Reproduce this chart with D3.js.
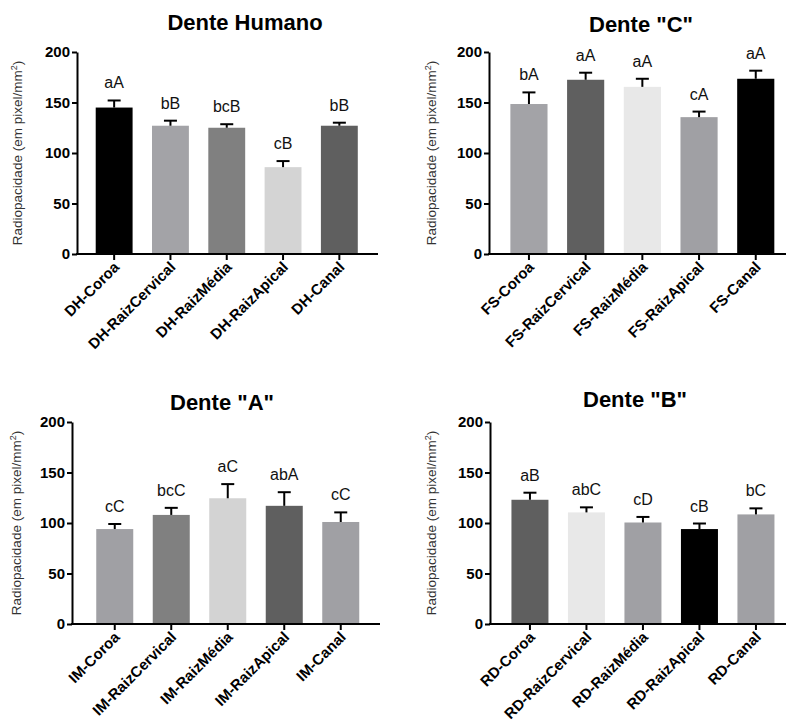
<!DOCTYPE html>
<html>
<head>
<meta charset="utf-8">
<script src="https://cdn.jsdelivr.net/npm/d3@7"></script>
<style>
  body { margin: 0; background: #fff; }
  svg, svg text { font-family: Arial, "Liberation Sans", Helvetica, sans-serif; }
</style>
</head>
<body>
<svg id="chart" width="787" height="724"></svg>
<script>
// values
const yTicks = [0, 50, 100, 150, 200];

const dhTitle = 'Dente Humano';
const dhCats = ['DH-Coroa', 'DH-RaizCervical', 'DH-RaizMédia', 'DH-RaizApical', 'DH-Canal'];
const dhMeans = [145, 127, 125, 86, 127];
const dhErr = [7, 5, 3.5, 6, 3];
const dhLetters = ['aA', 'bB', 'bcB', 'cB', 'bB'];

const fsTitle = 'Dente "C"';
const fsCats = ['FS-Coroa', 'FS-RaizCervical', 'FS-RaizMédia', 'FS-RaizApical', 'FS-Canal'];
const fsMeans = [148.5, 172.5, 165.5, 135.5, 173.5];
const fsErr = [11.5, 7, 8, 5.5, 8];
const fsLetters = ['bA', 'aA', 'aA', 'cA', 'aA'];

const imTitle = 'Dente "A"';
const imCats = ['IM-Coroa', 'IM-RaizCervical', 'IM-RaizMédia', 'IM-RaizApical', 'IM-Canal'];
const imMeans = [94, 108, 124.5, 117, 101];
const imErr = [5, 7, 14, 13.5, 9.5];
const imLetters = ['cC', 'bcC', 'aC', 'abA', 'cC'];

const rdTitle = 'Dente "B"';
const rdCats = ['RD-Coroa', 'RD-RaizCervical', 'RD-RaizMédia', 'RD-RaizApical', 'RD-Canal'];
const rdMeans = [123, 110.5, 100.5, 94, 108.5];
const rdErr = [7, 5, 5.5, 5.5, 6];
const rdLetters = ['aB', 'abC', 'cD', 'cB', 'bC'];

// bar fills per panel
const dhColors = ['#000000', '#a3a3a7', '#808080', '#d4d4d4', '#5f5f5f'];
const fsColors = ['#a3a3a7', '#5f5f5f', '#e8e8e8', '#a0a0a4', '#000000'];
const imColors = ['#a0a0a4', '#808080', '#d3d3d3', '#5f5f5f', '#a0a0a4'];
const rdColors = ['#5f5f5f', '#e8e8e8', '#a0a0a4', '#000000', '#a0a0a4'];

const FONT = 'Arial, "Liberation Sans", Helvetica, sans-serif';

const panels = [
  { title: dhTitle, cats: dhCats, means: dhMeans, err: dhErr, letters: dhLetters, colors: dhColors,
    axisX: 77, y0: 254, y200: 52, xEnd: 378, bandStart: 86, step: 56.3, labelX: 22, titleX: 245, titleY: 30 },
  { title: fsTitle, cats: fsCats, means: fsMeans, err: fsErr, letters: fsLetters, colors: fsColors,
    axisX: 489, y0: 254, y200: 52, xEnd: 786, bandStart: 500.6, step: 56.7, labelX: 436, titleX: 641, titleY: 32 },
  { title: imTitle, cats: imCats, means: imMeans, err: imErr, letters: imLetters, colors: imColors,
    axisX: 72, y0: 624, y200: 422, xEnd: 380, bandStart: 86.5, step: 56.5, labelX: 21, titleX: 222, titleY: 410 },
  { title: rdTitle, cats: rdCats, means: rdMeans, err: rdErr, letters: rdLetters, colors: rdColors,
    axisX: 490, y0: 624, y200: 422, xEnd: 786, bandStart: 501.7, step: 56.5, labelX: 436, titleX: 635, titleY: 407 }
];

const svg = d3.select('#chart').attr('font-family', FONT);

panels.forEach(p => {
  const g = svg.append('g');

  const y = d3.scaleLinear().domain([0, 200]).range([p.y0, p.y200]);
  const x = d3.scaleBand()
    .domain(p.cats)
    .range([p.bandStart, p.bandStart + p.step * p.cats.length])
    .paddingInner(0.345)
    .paddingOuter(0.1725);

  // bars
  g.selectAll('rect.bar')
    .data(p.cats)
    .enter().append('rect')
    .attr('class', 'bar')
    .attr('x', d => x(d))
    .attr('width', x.bandwidth())
    .attr('y', (d, i) => y(p.means[i]))
    .attr('height', (d, i) => p.y0 - y(p.means[i]))
    .attr('fill', (d, i) => p.colors[i]);

  // error bars (upper only)
  const cx = d => x(d) + x.bandwidth() / 2;
  g.selectAll('line.err')
    .data(p.cats)
    .enter().append('line')
    .attr('x1', cx).attr('x2', cx)
    .attr('y1', (d, i) => y(p.means[i]))
    .attr('y2', (d, i) => y(p.means[i] + p.err[i]))
    .attr('stroke', '#000').attr('stroke-width', 2);

  g.selectAll('line.cap')
    .data(p.cats)
    .enter().append('line')
    .attr('x1', d => cx(d) - 6.5).attr('x2', d => cx(d) + 6.5)
    .attr('y1', (d, i) => y(p.means[i] + p.err[i]))
    .attr('y2', (d, i) => y(p.means[i] + p.err[i]))
    .attr('stroke', '#000').attr('stroke-width', 2);

  // significance letters
  g.selectAll('text.letter')
    .data(p.cats)
    .enter().append('text')
    .attr('x', cx)
    .attr('y', (d, i) => y(p.means[i] + p.err[i]) - 12)
    .attr('text-anchor', 'middle')
    .attr('font-size', 16)
    .attr('fill', '#111')
    .text((d, i) => p.letters[i]);

  // y axis
  const yAxis = g.append('g')
    .attr('transform', `translate(${p.axisX},0)`)
    .call(d3.axisLeft(y).tickValues(yTicks).tickSize(5).tickPadding(2).tickSizeOuter(0));
  yAxis.attr('font-family', FONT);
  yAxis.select('.domain').attr('stroke-width', 2);
  yAxis.selectAll('.tick line').attr('stroke-width', 2);
  yAxis.selectAll('.tick text')
    .attr('font-size', 15).attr('font-weight', 'bold').attr('fill', '#000');

  // x axis line and ticks
  g.append('line')
    .attr('x1', p.axisX - 1).attr('x2', p.xEnd)
    .attr('y1', p.y0).attr('y2', p.y0)
    .attr('stroke', '#000').attr('stroke-width', 2);
  g.selectAll('line.xtick')
    .data(p.cats)
    .enter().append('line')
    .attr('x1', cx).attr('x2', cx)
    .attr('y1', p.y0).attr('y2', p.y0 + 6)
    .attr('stroke', '#000').attr('stroke-width', 2);

  g.selectAll('text.xlab')
    .data(p.cats)
    .enter().append('text')
    .attr('transform', d => `translate(${cx(d) + 6},${p.y0 + 14}) rotate(-45)`)
    .attr('text-anchor', 'end')
    .attr('font-size', 15)
    .attr('font-weight', 'bold')
    .text(d => d);

  // y axis label
  const lab = g.append('text')
    .attr('transform', `translate(${p.labelX},${(p.y0 + p.y200) / 2}) rotate(-90)`)
    .attr('text-anchor', 'middle')
    .attr('font-size', 13.5)
    .attr('fill', '#333')
    .text('Radiopacidade (em pixel/mm');
  lab.append('tspan').attr('baseline-shift', 'super').attr('font-size', 9).text('2');
  lab.append('tspan').text(')');

  // title
  g.append('text')
    .attr('x', p.titleX).attr('y', p.titleY)
    .attr('text-anchor', 'middle')
    .attr('font-size', 22)
    .attr('font-weight', 'bold')
    .text(p.title);
});
</script>
</body>
</html>
